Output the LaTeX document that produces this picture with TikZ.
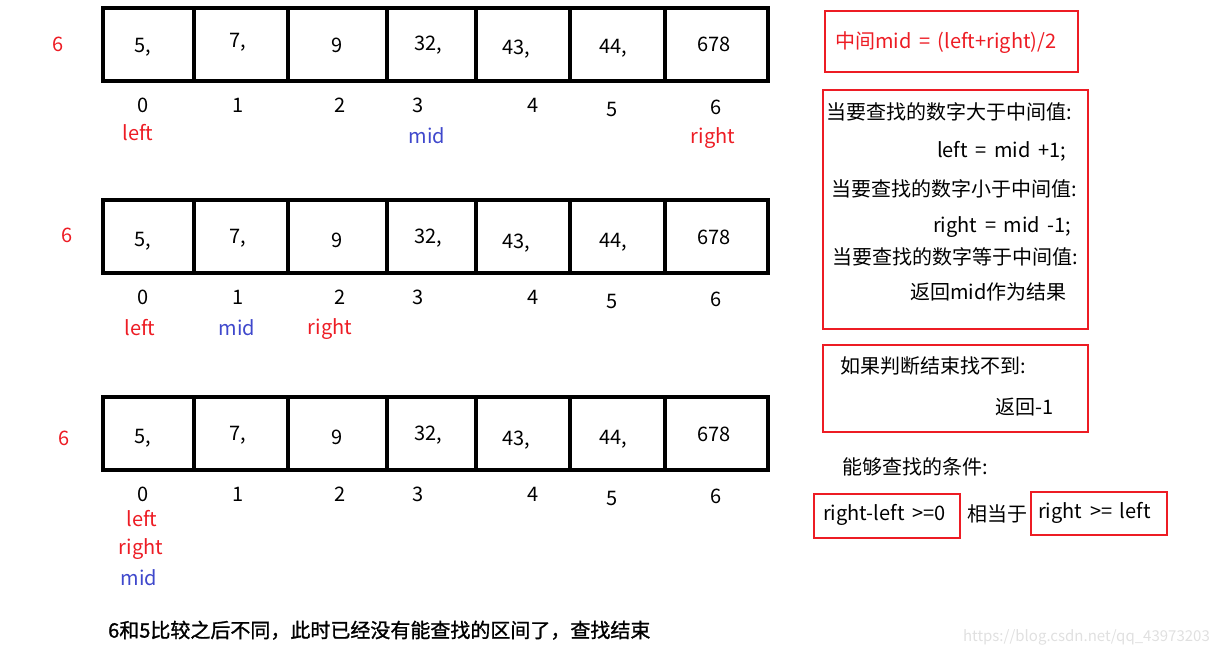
\documentclass[tikz,border=0pt]{standalone}
\usepackage{fontspec}
\setmainfont[WordSpace=1.7]{Noto Sans CJK SC}
\newfontfamily\boldcjk[FakeBold=1.2]{Noto Sans CJK SC}
\definecolor{pred}{HTML}{ED1C24}
\definecolor{pblue}{HTML}{3F48CC}
\begin{document}
\begin{tikzpicture}[x=1pt,y=-1pt,font=\fontsize{20}{24}\selectfont,
  lbl/.style={inner sep=0pt,text height=0.72em,text depth=0pt,yshift=-4pt},
  txt/.style={lbl,anchor=west},
  frame/.style={draw=black,line width=4pt},
  redbox/.style={draw=pred,line width=1.2pt,inner sep=0pt},
  lredtxt/.style={lbl,text=pred},
  lbluetxt/.style={lbl,text=pblue}]
\useasboundingbox (0,0) rectangle (1220,653);

% ---- three arrays ----
\foreach \r/\dy in {1/0,2/192,3/389}{
  \begin{scope}[shift={(0,\dy)}]
    \draw[frame] (103,8) rectangle (570,81);
    \draw[frame] (570,8) rectangle (768,81);
    \foreach \xx in {194,288,387,476,665}
      \draw[frame] (\xx,8) -- (\xx,81);
    \foreach \i/\xx/\yy in {0/143/105,1/238/105,2/340/105,3/418/105,4/533/105,5/612/109,6/716/107}
      \node[lbl] (i\r-\i) at (\xx,\yy) {\i};
  \end{scope}
}
% values, array 1
\foreach \i/\xx/\yy/\v in {0/143/45/{5,},1/238/40/{7,},2/337/45/9,3/428/43/{32,},4/516/47/{43,},5/613/46/{44,},6/714/44/678}
  \node[lbl] (v1-\i) at (\xx,\yy) {\v};
% values, arrays 2 and 3
\foreach \r/\dy in {2/192,3/389}{
  \begin{scope}[shift={(0,\dy)}]
    \foreach \i/\xx/\yy/\v in {0/143/47/{5,},1/238/44/{7,},2/337/48/9,3/428/44/{32,},4/516/49/{43,},5/613/48/{44,},6/714/45/678}
      \node[lbl] (v\r-\i) at (\xx,\yy) {\v};
  \end{scope}
}
% target values
\node[lredtxt] (t1) at (58,44) {6};
\node[lredtxt] (t2) at (67,235) {6};
\node[lredtxt] (t3) at (64,438) {6};
% pointers
\node[lredtxt] (l1) at (138,133) {left};
\node[lbluetxt] (m1) at (427,136) {mid};
\node[lredtxt] (r1) at (713,136) {right};
\node[lredtxt] (l2) at (140,328) {left};
\node[lbluetxt] (m2) at (237,328) {mid};
\node[lredtxt] (r2) at (330,327) {right};
\node[lredtxt] (l3) at (142,519) {left};
\node[lredtxt] (r3) at (141,547) {right};
\node[lbluetxt] (m3) at (139,578) {mid};

% ---- right side ----
\node[redbox,minimum width=253,minimum height=61] (b1) at (951.5,41.5) {};
\node[txt,text=pred] (f1) at (835,41) {中间mid = (left+right)/2};

\node[redbox,minimum width=265,minimum height=239] (b2) at (955.5,209.5) {};
\node[txt] (s1) at (826,112) {当要查找的数字大于中间值:};
\node[txt] (s2) at (937,150) {left = mid +1;};
\node[txt] (s3) at (831,189) {当要查找的数字小于中间值:};
\node[txt] (s4) at (933,225) {right = mid -1;};
\node[txt] (s5) at (832,257) {当要查找的数字等于中间值:};
\node[txt] (s6) at (910,292) {返回mid作为结果};

\node[redbox,minimum width=265,minimum height=87] (b3) at (955.5,388.5) {};
\node[txt] (n1) at (840,366) {如果判断结束找不到:};
\node[txt] (n2) at (995,407) {返回-1};

\node[txt] (c0) at (842,467) {能够查找的条件:};
\node[redbox,minimum width=146,minimum height=44] (b4) at (887,516) {};
\node[txt] (c1) at (823,513) {right-left >=0};
\node[txt] (c2) at (967,514) {相当于};
\node[redbox,minimum width=136,minimum height=43] (b5) at (1099,513.5) {};
\node[txt] (c3) at (1038,511) {right >= left};

% ---- bottom ----
\node[txt] (end) at (108,630) {\boldcjk 6和5比较之后不同，此时已经没有能查找的区间了，查找结束};
\node[lbl,anchor=east,text=black!12,font=\fontsize{15}{18}\selectfont] (wm) at (1210,634) {https://blog.csdn.net/qq\_43973203};
\end{tikzpicture}
\end{document}
